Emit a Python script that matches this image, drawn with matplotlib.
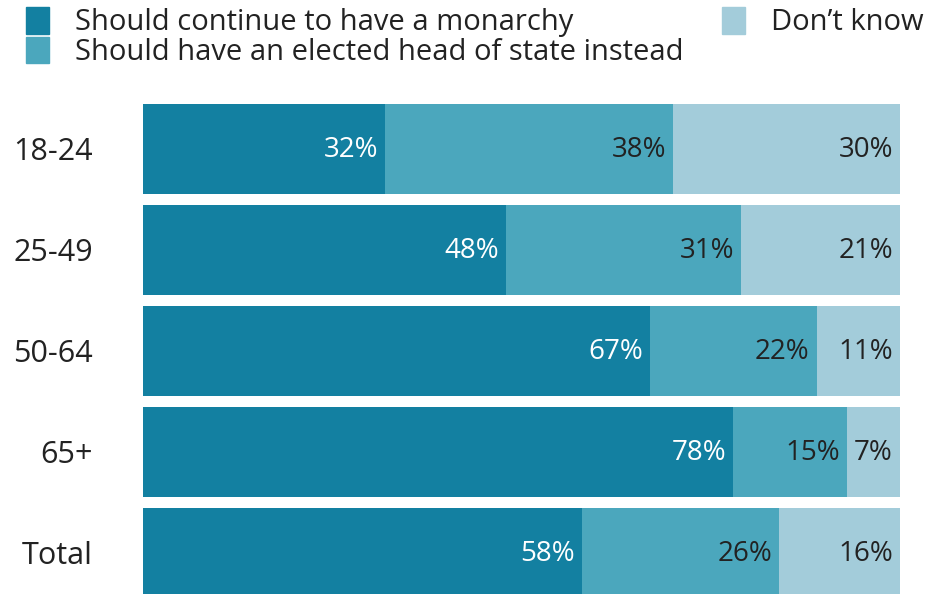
import matplotlib
matplotlib.use("Agg")
import matplotlib.pyplot as plt
from matplotlib.patches import Rectangle
from matplotlib.transforms import offset_copy

categories = ["18-24", "25-49", "50-64", "65+", "Total"]
monarchy = [32, 48, 67, 78, 58]
elected = [38, 31, 22, 15, 26]
dont_know = [30, 21, 11, 7, 16]
series_names = ["Should continue to have a monarchy",
                "Should have an elected head of state instead",
                "Don\u2019t know"]
colors = ["#1380A1", "#4BA7BD", "#A3CCDA"]
text_colors = ["white", "#222222", "#222222"]

plt.rcParams['font.family'] = ['Open Sans', 'DejaVu Sans']

W, H = 933, 594
fig = plt.figure(figsize=(W/100, H/100), dpi=100)
ax = fig.add_axes([143/W, 0, (900-143)/W, 1 - 98.5/H])
ax.set_xlim(0, 100)
ax.set_ylim(4.406, -0.5)

y = list(range(len(categories)))
left = [0]*len(categories)
for vals, col, tcol in zip([monarchy, elected, dont_know], colors, text_colors):
    ax.barh(y, vals, left=left, height=0.891, color=col, edgecolor='none')
    trans = offset_copy(ax.transData, fig=fig, x=-7, y=-8, units='dots')
    for yi, l, v in zip(y, left, vals):
        ax.text(l + v, yi, f"{v}%", ha='right', va='baseline', color=tcol,
                fontsize=20, transform=trans)
    left = [a + b for a, b in zip(left, vals)]

ax.set_yticks(y)
ax.set_yticklabels(categories, fontsize=22, color="#222222")
ax.tick_params(axis='y', length=0, pad=36)
ax.set_xticks([])
for s in ax.spines.values():
    s.set_visible(False)

# legend
legend_items = [(26, 7, 34, 30, 0), (26, 37, 63, 60, 1), (722, 7, 34, 30, 2)]
for px, top, bot, base, i in legend_items:
    fig.patches.append(Rectangle((px/W, 1 - bot/H), 23/W, (bot-top)/H,
                                 transform=fig.transFigure, color=colors[i]))
    fig.text((px + 49)/W, 1 - base/H, series_names[i], ha='left', va='baseline',
             fontsize=21, color="#222222")

fig.savefig("out.png", dpi=100)
